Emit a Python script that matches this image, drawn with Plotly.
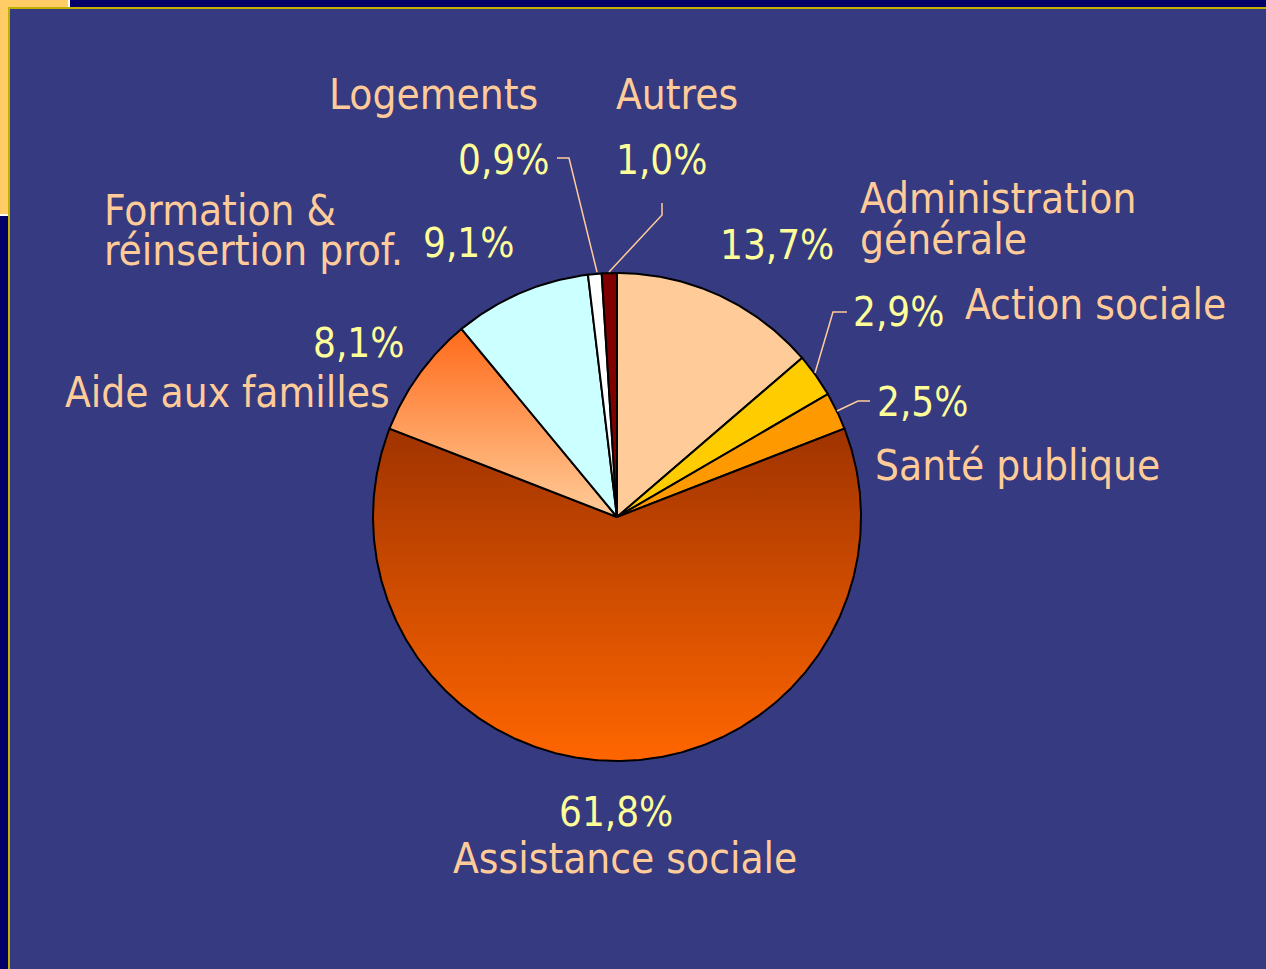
import numpy as np
import plotly.graph_objects as go

# ---- data ----
categories = ["Administration générale", "Action sociale", "Santé publique",
              "Assistance sociale", "Aide aux familles",
              "Formation & réinsertion prof.", "Logements", "Autres"]
values = [13.7, 2.9, 2.5, 61.8, 8.1, 9.1, 0.9, 1.0]
pct_labels = ["13,7%", "2,9%", "2,5%", "61,8%", "8,1%", "9,1%", "0,9%", "1,0%"]

W, H = 1266, 969
BG = "#363A80"
LABEL = "#FFCC99"
PCT = "#FFFF99"
FONT = "Liberation Sans Narrow, Arial Narrow, DejaVu Sans Condensed, sans-serif"
FS_LAB = 42
FS_PCT = 40

# slice fills: solid or (bottom, top) vertical gradients
fills = [
    "#FFCC99",
    "#FFCC00",
    "#FF9900",
    ("#FF6600", "#A03300"),
    ("#FFCC99", "#FF6A1A"),
    "#CCFFFF",
    "#FFFFFF",
    "#800000",
]

cx, cy, R = 617, 517, 245  # pixel centre/radius of pie


def px(x, y):
    return x / W, 1 - y / H


fig = go.Figure()

total = sum(values)
cum = 0.0
for cat, v, f in zip(categories, values, fills):
    a0 = np.pi / 2 - 2 * np.pi * cum / total
    a1 = np.pi / 2 - 2 * np.pi * (cum + v) / total
    cum += v
    n = max(4, int(abs(a1 - a0) / (2 * np.pi) * 720))
    t = np.linspace(a0, a1, n)
    xs = np.concatenate([[0], np.cos(t), [0]])
    ys = np.concatenate([[0], np.sin(t), [0]])
    kw = dict(x=xs, y=ys, mode="lines", fill="toself", name=cat,
              line=dict(color="black", width=2), hoverinfo="name",
              showlegend=False)
    if isinstance(f, tuple):
        kw["fillgradient"] = dict(type="vertical",
                                  colorscale=[[0, f[0]], [1, f[1]]])
    else:
        kw["fillcolor"] = f
    fig.add_trace(go.Scatter(**kw))

x0d, x1d = (cx - R) / W, (cx + R) / W
y0d, y1d = 1 - (cy + R) / H, 1 - (cy - R) / H
fig.update_xaxes(domain=[x0d, x1d], range=[-1.004, 1.004], visible=False, fixedrange=True)
fig.update_yaxes(domain=[y0d, y1d], range=[-1.004, 1.004], visible=False, fixedrange=True)

# ---- frame decorations ----
shapes = []


def rect(xa, ya, xb, yb, color):
    (ax, ay), (bx, by) = px(xa, ya), px(xb, yb)
    shapes.append(dict(type="rect", xref="paper", yref="paper", x0=ax, y0=by,
                       x1=bx, y1=ay, fillcolor=color, line=dict(width=0),
                       layer="below"))


rect(0, 0, W, 7, "#000066")
rect(0, 0, 68, 7, "#FFCC66")
rect(68, 0, 70, 7, "#FFFFFF")
rect(0, 0, 8, 214, "#FFCC66")
rect(0, 214, 8, 216, "#FFFFFF")
rect(0, 216, 8, H, "#000066")
rect(8, 7, 10, H, "#C2B000")
rect(8, 7, W, 9, "#C2B000")


def leader(pts):
    path = ""
    for i, (x, y) in enumerate(pts):
        X, Y = px(x, y)
        path += ("M" if i == 0 else "L") + f"{X},{Y} "
    shapes.append(dict(type="path", xref="paper", yref="paper", path=path,
                       line=dict(color=LABEL, width=1.5)))


leader([(557, 158), (569, 158), (597, 272)])
leader([(662, 203), (662, 215), (609, 272)])
leader([(847, 312), (833, 312), (815, 373)])
leader([(870, 401), (858, 401), (837, 411)])

annotations = []


def txt(text, x, y, color, size, anchor="center"):
    X, Y = px(x, y)
    annotations.append(dict(text=text, x=X, y=Y, xref="paper", yref="paper",
                            xanchor=anchor, yanchor="middle", showarrow=False,
                            font=dict(family=FONT, size=size, color=color)))


# category labels
txt("Logements", 433, 95, LABEL, FS_LAB)
txt("Autres", 677, 95, LABEL, FS_LAB)
txt("Formation &", 102, 210, LABEL, FS_LAB, "left")
txt("réinsertion prof.", 102, 250, LABEL, FS_LAB, "left")
txt("Administration", 858, 199, LABEL, FS_LAB, "left")
txt("générale", 858, 240, LABEL, FS_LAB, "left")
txt("Action sociale", 963, 305, LABEL, FS_LAB, "left")
txt("Santé publique", 873, 466, LABEL, FS_LAB, "left")
txt("Aide aux familles", 392, 392, LABEL, FS_LAB, "right")
txt("Assistance sociale", 625, 858, LABEL, FS_LAB)

# percentages
txt(pct_labels[6], 551, 160, PCT, FS_PCT, "right")
txt(pct_labels[7], 661, 160, PCT, FS_PCT)
txt(pct_labels[5], 468, 243, PCT, FS_PCT)
txt(pct_labels[0], 836, 245, PCT, FS_PCT, "right")
txt(pct_labels[1], 851, 312, PCT, FS_PCT, "left")
txt(pct_labels[2], 875, 402, PCT, FS_PCT, "left")
txt(pct_labels[4], 406, 343, PCT, FS_PCT, "right")
txt(pct_labels[3], 616, 812, PCT, FS_PCT)

fig.update_layout(
    width=W, height=H,
    margin=dict(l=0, r=0, t=0, b=0),
    paper_bgcolor=BG, plot_bgcolor=BG,
    shapes=shapes, annotations=annotations,
    showlegend=False,
)

fig.write_html("out.html", config={"displayModeBar": False},
               post_script="document.body.style.margin='0';"
                           "document.body.style.overflow='hidden';")
